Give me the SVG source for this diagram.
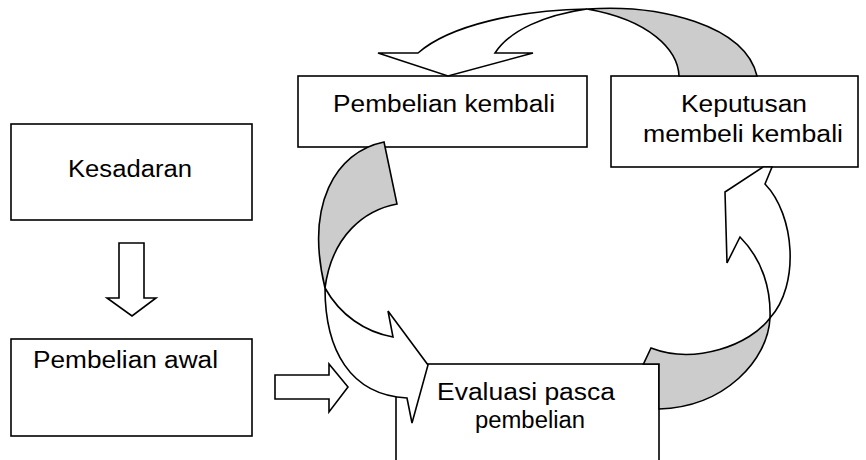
<svg xmlns="http://www.w3.org/2000/svg" width="866" height="460" viewBox="0 0 866 460">
  <style>
    .box { fill: #ffffff; stroke: #000000; stroke-width: 1.6; }
    .lbl { font-family: "Liberation Sans", Arial, sans-serif; font-size: 23px; fill: #000000; }
    .blk { fill: #ffffff; stroke: #000000; stroke-width: 1.6; stroke-linejoin: miter; }
    .back { fill: #cccccc; stroke: #000000; stroke-width: 1.6; stroke-linejoin: miter; }
  </style>
  <rect width="866" height="460" fill="#ffffff"/>

  <!-- nodes -->
  <g id="kesadaran">
    <rect class="box" x="11" y="124" width="241" height="96"/>
    <text class="lbl" x="68" y="177" textLength="124" lengthAdjust="spacingAndGlyphs">Kesadaran</text>
  </g>
  <g id="pembelian-awal">
    <rect class="box" x="11" y="339" width="241" height="97"/>
    <text class="lbl" x="33" y="368" textLength="185" lengthAdjust="spacingAndGlyphs">Pembelian awal</text>
  </g>
  <g id="pembelian-kembali">
    <rect class="box" x="298" y="76" width="289" height="71"/>
    <text class="lbl" x="333" y="112" textLength="222" lengthAdjust="spacingAndGlyphs">Pembelian kembali</text>
  </g>
  <g id="keputusan">
    <rect class="box" x="611" y="76" width="247" height="91"/>
    <text class="lbl" x="681" y="112" textLength="126" lengthAdjust="spacingAndGlyphs">Keputusan</text>
    <text class="lbl" x="643" y="142" textLength="200" lengthAdjust="spacingAndGlyphs">membeli kembali</text>
  </g>
  <g id="evaluasi">
    <rect class="box" x="396" y="364" width="263" height="110"/>
    <text class="lbl" x="437" y="400" textLength="178" lengthAdjust="spacingAndGlyphs">Evaluasi pasca</text>
    <text class="lbl" x="475" y="428" textLength="110" lengthAdjust="spacingAndGlyphs">pembelian</text>
  </g>

  <!-- connectors: block arrows -->
  <g id="connectors">
    <!-- Kesadaran to Pembelian awal -->
    <polygon class="blk" points="119,243 144,243 144,298 156,298 132,316 107,298 119,298"/>
    <!-- Pembelian awal to Evaluasi -->
    <polygon class="blk" points="275,375 329,375 329,364 348,387 329,412 329,399 275,399"/>

    <!-- Keputusan to Pembelian kembali (twisted ribbon over the top) -->
    <path class="back" d="M587,9 C660,4 745,25 757,76 L679,76 C678,50 650,20 587,9 Z"/>
    <path class="blk" d="M587,9 C520,10 450,25 418,53 L378,53 L448,76 L533,53 L495,53 C510,30 545,15 587,9 Z"/>

    <!-- Pembelian kembali to Evaluasi (left loop) -->
    <path class="back" d="M384,142 L397,204 C365,210 332,235 325,288 C305,205 335,152 384,142 Z"/>
    <path class="blk" d="M325,288 C340,315 365,332 393,337 L388,311 L428,365 L412,423 L407,398 C350,395 325,350 325,288 Z"/>

    <!-- Evaluasi to Keputusan (right loop) -->
    <path class="back" d="M651,348 C695,365 750,345 770,318 C768,360 725,407 659,409 L659,364 L643.5,364 Z"/>
    <path class="blk" d="M770,318 C771,290 763,260 740,237 L727,263 L725,192 L763,167 L772,167 L765,184 C795,215 800,285 770,318 Z"/>
  </g>
</svg>
